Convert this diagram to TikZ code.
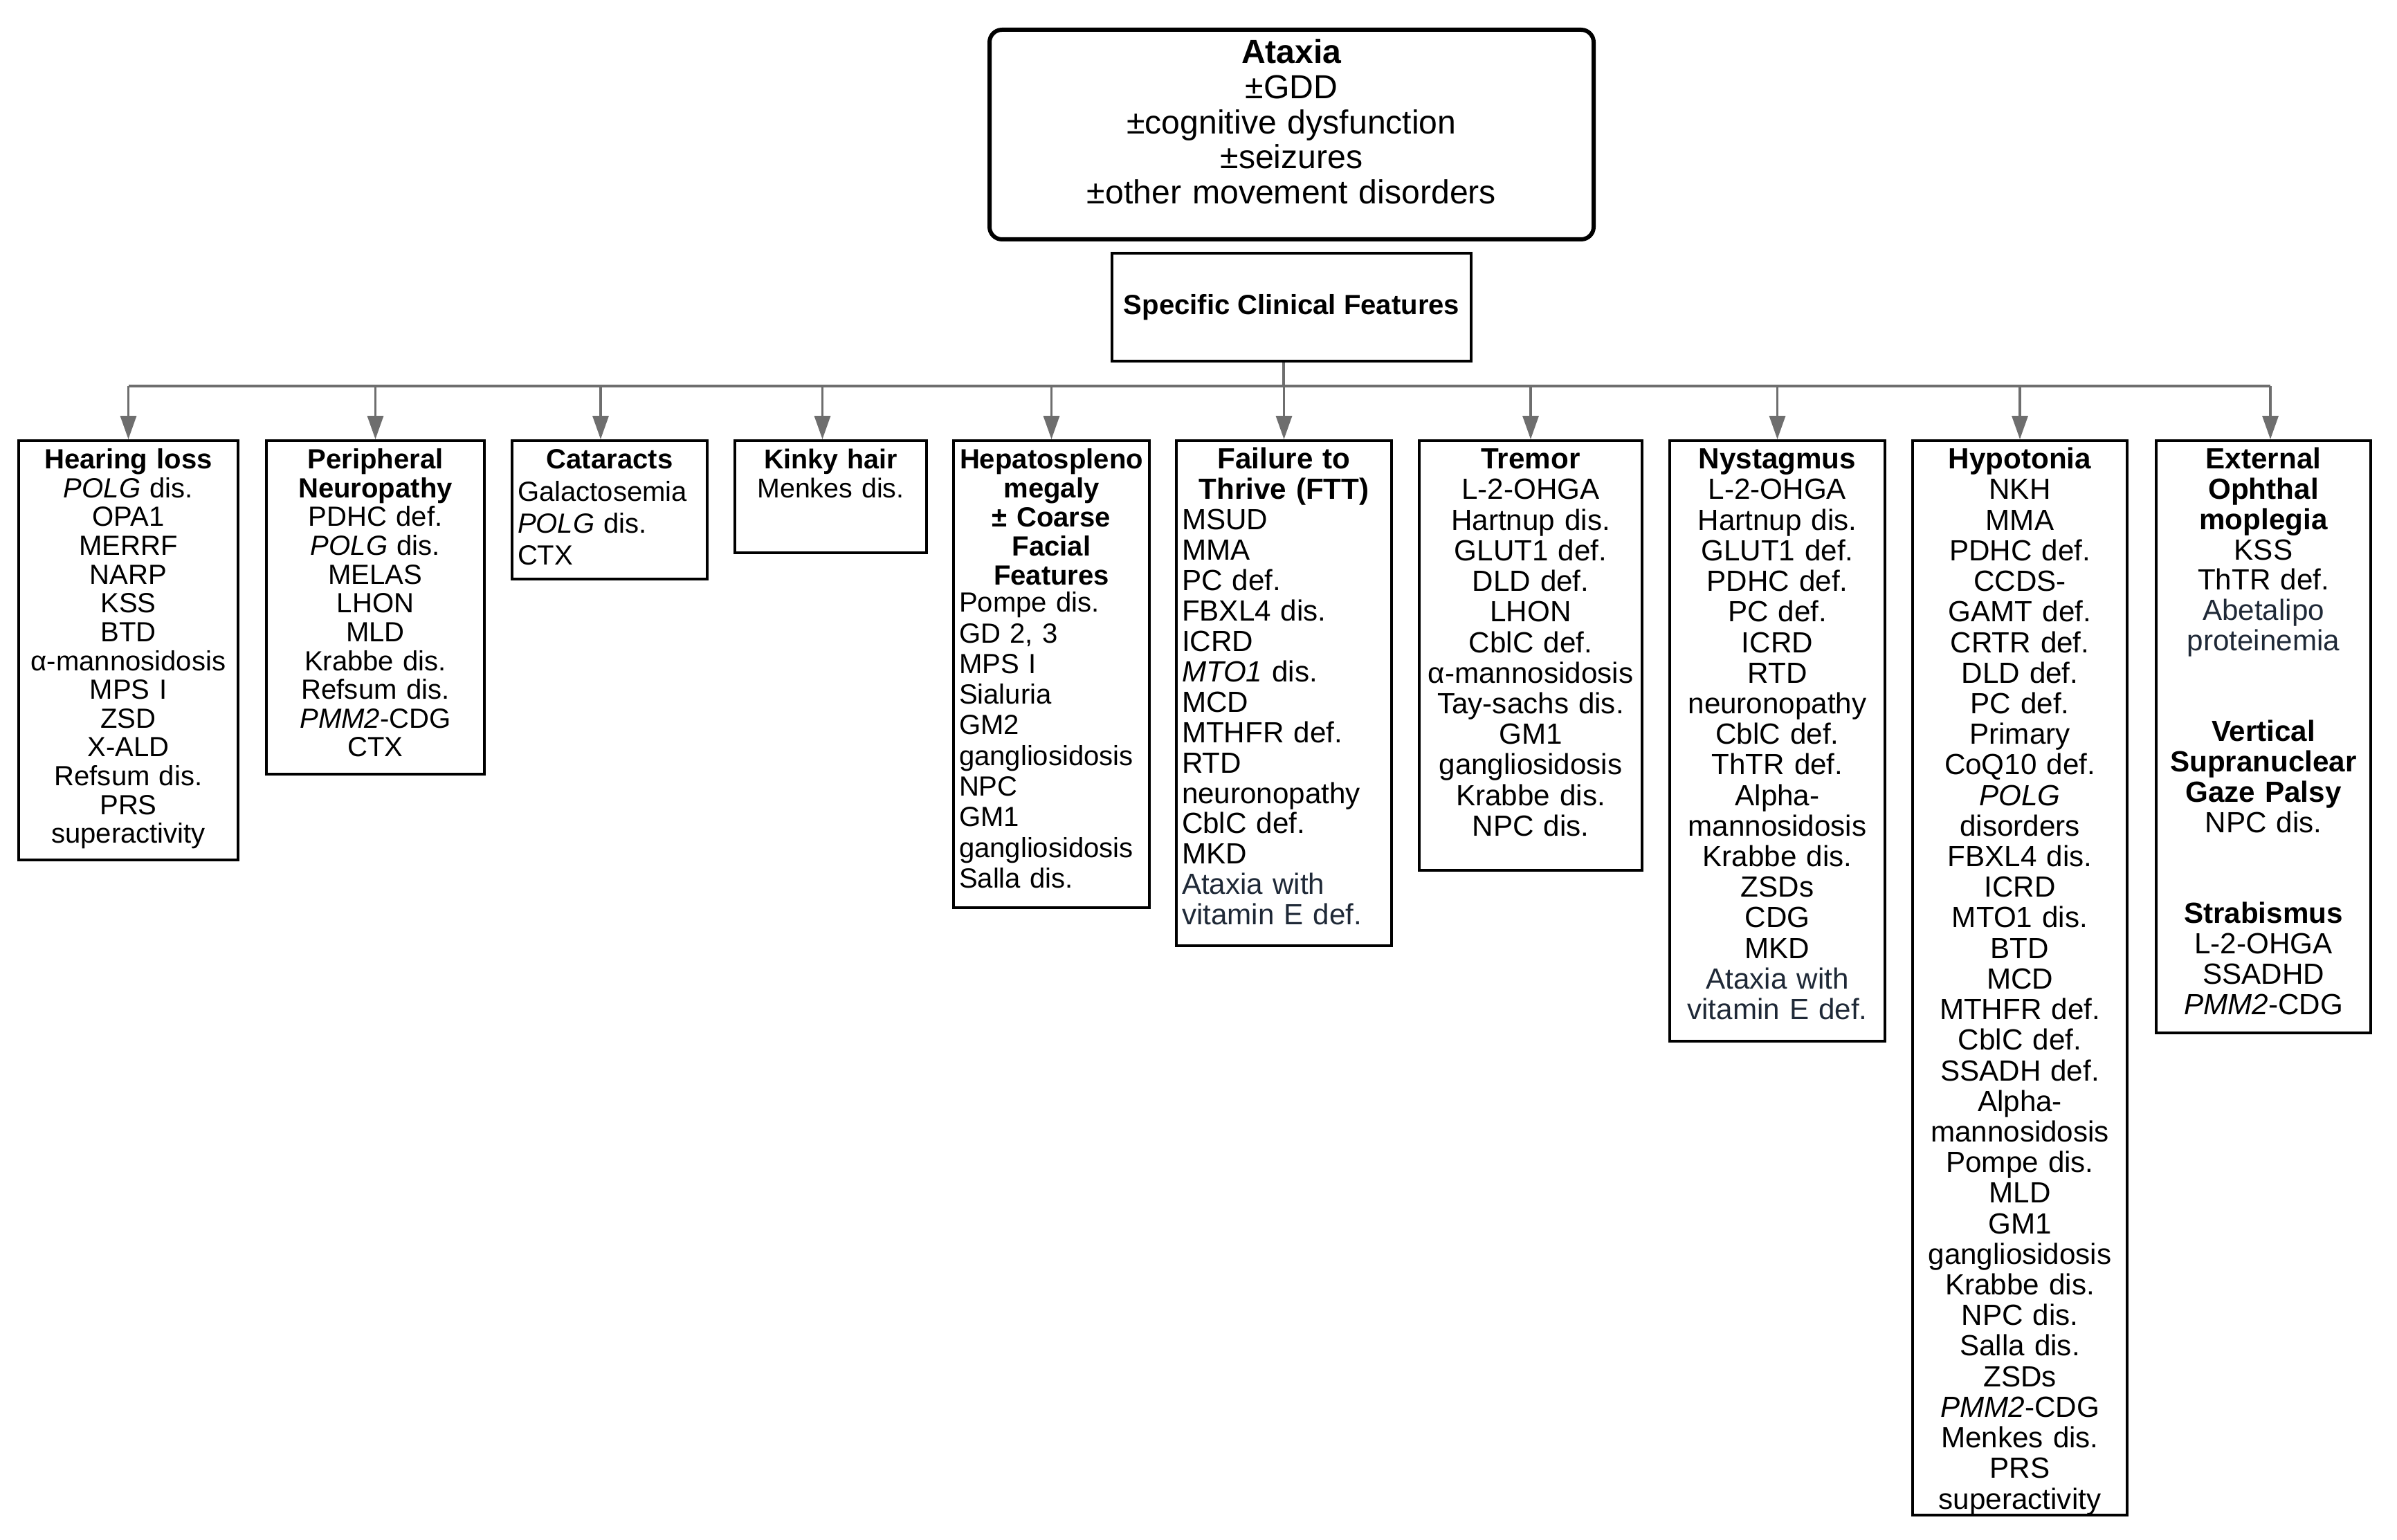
\documentclass[tikz,border=0pt]{standalone}
\usepackage{fontspec}
\setmainfont{Liberation Sans}
\usetikzlibrary{positioning,calc,arrows.meta}
\definecolor{linkgray}{HTML}{6E6E6E}
\definecolor{darkslate}{HTML}{1F2937}
\tikzset{block/.style={draw, line width=1pt, anchor=north, align=center, inner xsep=0.08cm, inner ysep=0.11cm, text height=0.30cm, font=\fontsize{12}{12.58}\selectfont},
  smallfont/.style={font=\fontsize{11.4}{11.84}\selectfont},
  topblock/.style={draw, line width=1.7pt, rounded corners=0.18cm, anchor=north, align=center, inner xsep=0.1cm, inner ysep=0.12cm, text height=0.37cm, font=\fontsize{13.7}{14.4}\selectfont},
  link/.style={draw=linkgray, line width=1pt},
  arrow/.style={link, -{Triangle[width=0.23cm,length=0.34cm]}}}

\begin{document}
\begin{tikzpicture}

\useasboundingbox (0,0) rectangle (34.64,-22.26);

% Blocks
\node [topblock, text width=8.53cm, text depth=2.42cm] (Ataxia) at (18.665,-0.40) {
    \textbf{Ataxia}\\ ±GDD\\ ±cognitive dysfunction\\ ±seizures\\ ±other movement disorders
};
\node [draw, line width=1pt, anchor=north, minimum width=5.19cm, minimum height=1.56cm, inner sep=0pt, font=\fontsize{11.4}{13}\selectfont\bfseries] (SpecificFeatures) at (18.665,-3.64) {Specific Clinical Features};

\node [block, smallfont, text width=3.01cm, text depth=5.54cm] (HearingLoss) at (1.855,-6.35) {
    \textbf{Hearing loss}\\ \textit{POLG} dis.\\ OPA1\\ MERRF\\ NARP\\ KSS\\ BTD\\ α-mannosidosis\\ MPS I\\ ZSD\\ X-ALD\\ Refsum dis.\\ PRS\\ superactivity
};
\node [block, smallfont, text width=2.99cm, text depth=4.30cm] (Neuropathy) at (5.425,-6.35) {
    \textbf{Peripheral\\ Neuropathy}\\ PDHC def.\\ \textit{POLG} dis.\\ MELAS\\ LHON\\ MLD\\ Krabbe dis.\\ Refsum dis.\\ \textit{PMM2}-CDG\\ CTX
};
\node [block, align=left, font=\fontsize{11.4}{13.2}\selectfont, text width=2.66cm, text depth=1.48cm] (Cataracts) at (8.81,-6.35) {
    {\centering\textbf{Cataracts}\par}Galactosemia\\ \textit{POLG} dis.\\ CTX
};
\node [block, font=\fontsize{11.2}{11.9}\selectfont, text width=2.61cm, text depth=1.10cm] (KinkyHair) at (12.005,-6.35) {
    \textbf{Kinky hair}\\ Menkes dis.
};
\node [block, align=left, font=\fontsize{11.4}{12.6}\selectfont, text width=2.67cm, text depth=6.23cm] (Hepatosplenomegaly) at (15.195,-6.35) {
    {\centering\fontsize{11.4}{11.95}\selectfont\textbf{Hepatospleno\\ megaly\\ ± Coarse\\ Facial\\ Features}\par}\vspace{-1.5pt}Pompe dis.\\ GD 2, 3\\ MPS I\\ Sialuria\\ GM2\\ gangliosidosis\\ NPC\\ GM1\\ gangliosidosis\\ Salla dis.
};
\node [block, align=left, font=\fontsize{12}{12.5}\selectfont, text width=2.95cm, text depth=6.78cm] (FailureToThrive) at (18.555,-6.35) {
    {\centering\textbf{Failure to\\ Thrive (FTT)}\par}MSUD\\ MMA\\ PC def.\\ FBXL4 dis.\\ ICRD\\ \textit{MTO1} dis.\\ MCD\\ MTHFR def.\\ RTD\\ neuronopathy\\ CblC def.\\ MKD\\ {\color{darkslate}Ataxia with\\ vitamin E def.}
};
\node [block, text width=3.06cm, text depth=5.69cm] (Tremor) at (22.12,-6.35) {
    \textbf{Tremor}\\ L-2-OHGA\\ Hartnup dis.\\ GLUT1 def.\\ DLD def.\\ LHON\\ CblC def.\\ α-mannosidosis\\ Tay-sachs dis.\\ GM1\\ gangliosidosis\\ Krabbe dis.\\ NPC dis.
};
\node [block, text width=2.95cm, text depth=8.16cm] (Nystagmus) at (25.685,-6.35) {
    \textbf{Nystagmus}\\ L-2-OHGA\\ Hartnup dis.\\ GLUT1 def.\\ PDHC def.\\ PC def.\\ ICRD\\ RTD\\ neuronopathy\\ CblC def.\\ ThTR def.\\ Alpha-\\ mannosidosis\\ Krabbe dis.\\ ZSDs\\ CDG\\ MKD\\ {\color{darkslate}Ataxia with\\ vitamin E def.}
};
\node [block, text width=2.94cm, text depth=15.01cm] (Hypotonia) at (29.19,-6.35) {
    \textbf{Hypotonia}\\ NKH\\ MMA\\ PDHC def.\\ CCDS-\\ GAMT def.\\ CRTR def.\\ DLD def.\\ PC def.\\ Primary\\ CoQ10 def.\\ \textit{POLG}\\ disorders\\ FBXL4 dis.\\ ICRD\\ MTO1 dis.\\ BTD\\ MCD\\ MTHFR def.\\ CblC def.\\ SSADH def.\\ Alpha-\\ mannosidosis\\ Pompe dis.\\ MLD\\ GM1\\ gangliosidosis\\ Krabbe dis.\\ NPC dis.\\ Salla dis.\\ ZSDs\\ \textit{PMM2}-CDG\\ Menkes dis.\\ PRS\\ superactivity
};
\node [block, font=\fontsize{12}{12.46}\selectfont, text width=2.94cm, text depth=8.04cm] (External) at (32.71,-6.35) {
    \textbf{External\\ Ophthal\\ moplegia}\\ KSS\\ ThTR def.\\ {\color{darkslate}Abetalipo\\ proteinemia}\\ ~\\ ~\\ \textbf{Vertical\\ Supranuclear\\ Gaze Palsy}\\ NPC dis.\\ ~\\ ~\\ \textbf{Strabismus}\\ L-2-OHGA\\ SSADHD\\ \textit{PMM2}-CDG
};

%Connections
\coordinate (bus) at (18.55,-5.58);
\draw[link] (SpecificFeatures.south -| bus) -- (bus);
\draw[link] (bus -| HearingLoss.north) -- ($(bus -| External.north)+(0.10,0)$);
\draw[arrow] (bus -| HearingLoss.north) -- (HearingLoss.north);
\draw[arrow] (bus -| Neuropathy.north) -- (Neuropathy.north);
\draw[arrow] ($(bus -| Cataracts.north)+(-0.13,0)$) -- ($(Cataracts.north)+(-0.13,0)$);
\draw[arrow] ($(bus -| KinkyHair.north)+(-0.12,0)$) -- ($(KinkyHair.north)+(-0.12,0)$);
\draw[arrow] (bus -| Hepatosplenomegaly.north) -- (Hepatosplenomegaly.north);
\draw[arrow] (bus -| FailureToThrive.north) -- (FailureToThrive.north);
\draw[arrow] (bus -| Tremor.north) -- (Tremor.north);
\draw[arrow] (bus -| Nystagmus.north) -- (Nystagmus.north);
\draw[arrow] (bus -| Hypotonia.north) -- (Hypotonia.north);
\draw[arrow] ($(bus -| External.north)+(0.10,0)$) -- ($(External.north)+(0.10,0)$);

\end{tikzpicture}
\end{document}
